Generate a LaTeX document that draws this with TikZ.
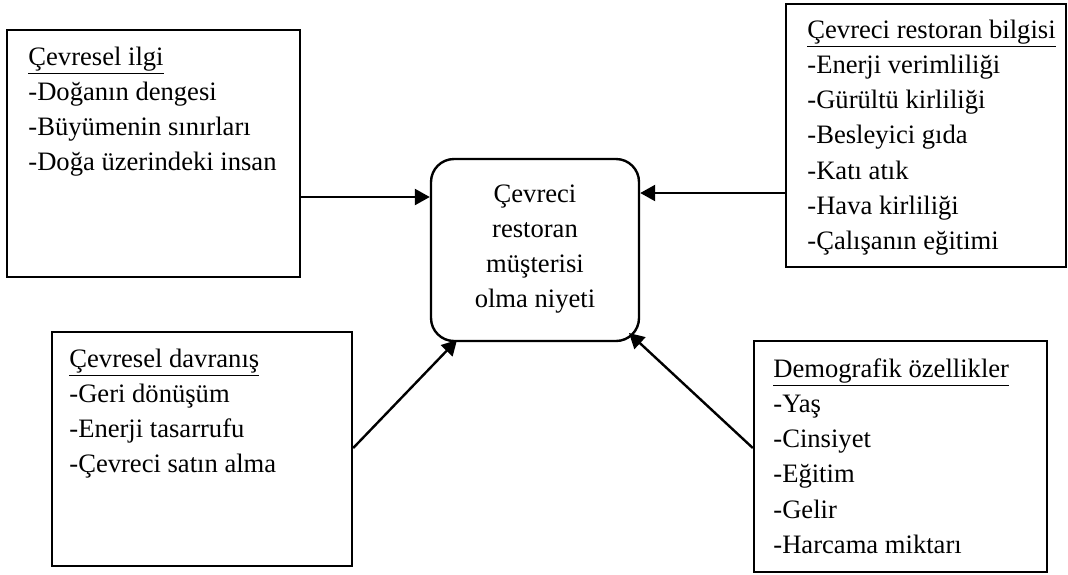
\documentclass[tikz,border=0pt]{standalone}
\usepackage{fontspec}
\setmainfont{Liberation Serif}
\usetikzlibrary{fit,arrows.meta}
\begin{document}
\begin{tikzpicture}[x=0.5pt,y=-0.5pt,
  box/.style={draw,line width=1.2pt,inner sep=0pt,fit={#1}},
  txt/.style={inner sep=0pt,font=\fontsize{13.3}{17.65}\selectfont},
  arr/.style={line width=1.2pt,-{Triangle[length=7.5pt,width=8pt]}}]
\useasboundingbox (0,0) rectangle (1068,574);
% boxes
\node[box={(7,30) (300,277)}] (b1) {};
\node[box={(786,4) (1066,267)}] (b2) {};
\node[box={(52,332) (352,566)}] (b3) {};
\node[box={(754,341) (1047,572)}] (b4) {};
\node[box={(431,159) (639,341)},rounded corners=11.5pt] (c) {};
% texts
\node[txt,anchor=base west] (t1) at (28,65) {\begin{tabular}[t]{@{}l@{}}\underline{Çevresel ilgi}\\-Doğanın dengesi\\-Büyümenin sınırları\\-Doğa üzerindeki insan\end{tabular}};
\node[txt,anchor=base west] (t2) at (807,38) {\begin{tabular}[t]{@{}l@{}}\underline{Çevreci restoran bilgisi}\\-Enerji verimliliği\\-Gürültü kirliliği\\-Besleyici gıda\\-Katı atık\\-Hava kirliliği\\-Çalışanın eğitimi\end{tabular}};
\node[txt,anchor=base west] (t3) at (69,367) {\begin{tabular}[t]{@{}l@{}}\underline{Çevresel davranış}\\-Geri dönüşüm\\-Enerji tasarrufu\\-Çevreci satın alma\end{tabular}};
\node[txt,anchor=base west] (t4) at (773,377) {\begin{tabular}[t]{@{}l@{}}\underline{Demografik özellikler}\\-Yaş\\-Cinsiyet\\-Eğitim\\-Gelir\\-Harcama miktarı\end{tabular}};
\node[txt,anchor=base] (tc) at (535,202) {\begin{tabular}[t]{@{}c@{}}Çevreci\\restoran\\müşterisi\\olma niyeti\end{tabular}};
% connectors
\coordinate (y1) at (0,197);
\coordinate (y2) at (0,193);
\coordinate (y34) at (0,448);
\coordinate (tip3) at (457,340);
\coordinate (tip4) at (629,333);
\draw[arr] (b1.east |- y1) -- (c.west |- y1);
\draw[arr] (b2.west |- y2) -- (c.east |- y2);
\draw[arr] (b3.east |- y34) -- (tip3);
\draw[arr] (b4.west |- y34) -- (tip4);
\end{tikzpicture}
\end{document}
